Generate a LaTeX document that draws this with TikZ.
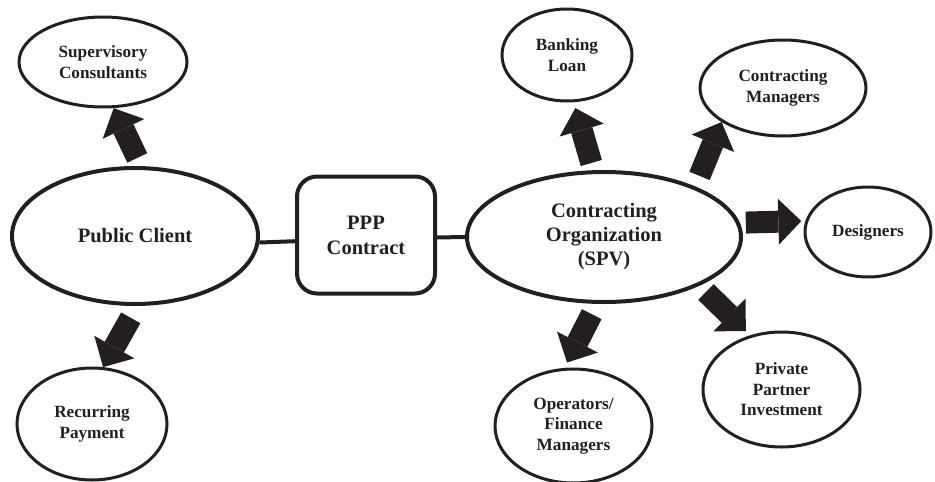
\documentclass[tikz,border=0pt]{standalone}
\usepackage{fontspec}
\setmainfont{Liberation Serif}
\usetikzlibrary{arrows.meta,shapes.geometric}
\definecolor{ink}{HTML}{231F20}
\begin{document}
\begin{tikzpicture}[x=1pt,y=-1pt,
  bubble/.style={ellipse, draw=ink, line width=3pt, inner sep=0pt, align=center, text=ink,
    font=\bfseries\fontsize{17.2}{20.5}\selectfont},
  bigbubble/.style={bubble, line width=4pt, font=\bfseries\fontsize{20.5}{24}\selectfont},
  contract/.style={rectangle, rounded corners=20pt, draw=ink, line width=4pt,
    minimum width=138pt, minimum height=117pt, inner sep=0pt, align=center, text=ink,
    font=\bfseries\fontsize{20.5}{25}\selectfont},
  link/.style={draw=ink, line width=4pt},
  blockarrow/.style={draw=ink, line width=22pt,
    -{Triangle[length=23pt,width=46pt,line width=0pt]}}
]
\useasboundingbox (0,0) rectangle (935,482);

\node[bubble, minimum width=168pt, minimum height=90pt] (sup) at (103,62) {Supervisory\\Consultants};
\node[bigbubble, minimum width=246pt, minimum height=136pt] (pc) at (135,236) {Public Client};
\node[bubble, minimum width=150pt, minimum height=112pt] (rec) at (92,424) {Recurring\\Payment};
\node[contract] (ppp) at (366,235) {PPP\\Contract};
\node[bigbubble, minimum width=274pt, minimum height=130pt] (org) at (604,237) {Contracting\\Organization\\(SPV)};
\node[bubble, minimum width=130pt, minimum height=92pt] (bank) at (567,55) {Banking\\Loan};
\node[bubble, minimum width=166pt, minimum height=96pt] (cm) at (783,88) {Contracting\\Managers};
\node[bubble, minimum width=126pt, minimum height=90pt] (des) at (868,232) {Designers};
\node[bubble, minimum width=157pt, minimum height=115pt] (ppi) at (781.5,389.5) {Private\\Partner\\Investment};
\node[bubble, minimum width=157pt, minimum height=114pt] (ops) at (573.5,426) {Operators/\\Finance\\Managers};

\draw[link] (pc.-3) -- (ppp.-175);
\draw[link] (ppp.-2.5) -- (org.west);

\draw[blockarrow, shorten <=9pt] (pc.85.2) -- (sup.-77.5);
\draw[blockarrow, shorten <=13.6pt] (pc.-88.8) -- (rec.79.3);
\draw[blockarrow, shorten <=7.5pt, shorten >=6pt] (org.99.5) -- (bank.-82.5);
\draw[blockarrow, shorten <=11.4pt] (org.29.7) -- (cm.-151.7);
\draw[blockarrow, shorten <=6pt, shorten >=4pt] (org.6.9) -- (des.170.5);
\draw[blockarrow, shorten <=11.5pt, shorten >=6pt] (org.-96) -- (ops.99.5);
\draw[blockarrow, shorten <=9pt, shorten >=6pt] (org.-27.3) -- (ppi.120.7);
\end{tikzpicture}
\end{document}
